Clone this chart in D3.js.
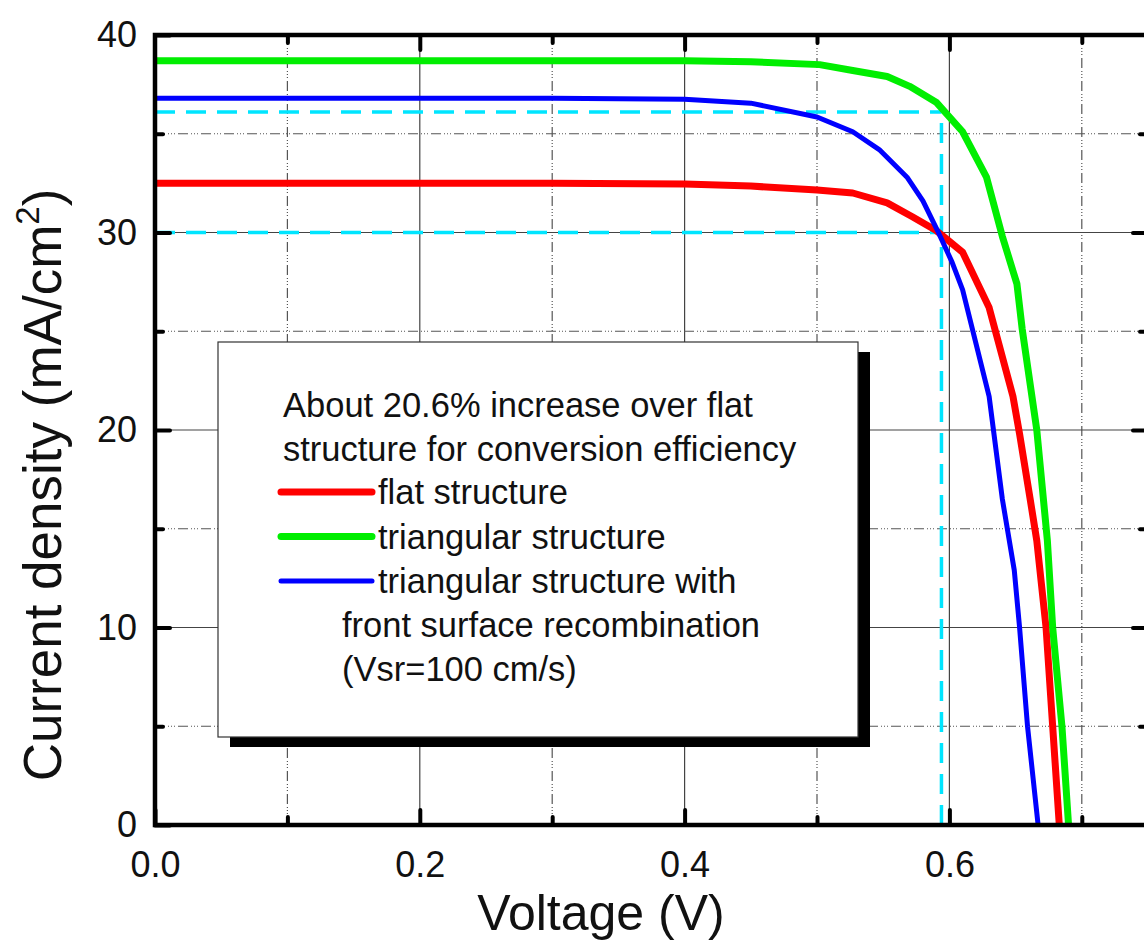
<!DOCTYPE html>
<html>
<head>
<meta charset="utf-8">
<script src="https://cdn.jsdelivr.net/npm/d3@7"></script>
<style>
  html, body { margin: 0; padding: 0; background: #fff; }
  svg { display: block; font-family: "Liberation Sans", Arial, sans-serif; }
</style>
</head>
<body>
<svg id="chart" width="1144" height="942"></svg>
<script>
// J-V curves: voltage (V) and current density (mA/cm^2) samples per structure
const flatV = [0, 0.1, 0.2, 0.3, 0.4, 0.45, 0.5, 0.527, 0.553, 0.572, 0.59, 0.61, 0.63, 0.648, 0.653, 0.661, 0.666, 0.673, 0.678, 0.683];
const flatJ = [32.5, 32.5, 32.5, 32.5, 32.45, 32.35, 32.15, 32.0, 31.5, 30.8, 30.1, 29.0, 26.2, 21.7, 19.8, 16.5, 14.4, 10.0, 5.0, 0];

const triV = [0, 0.1, 0.2, 0.3, 0.4, 0.45, 0.502, 0.527, 0.553, 0.57, 0.59, 0.61, 0.628, 0.64, 0.651, 0.655, 0.666, 0.674, 0.678, 0.685, 0.69];
const triJ = [38.7, 38.7, 38.7, 38.7, 38.7, 38.65, 38.5, 38.2, 37.9, 37.4, 36.6, 35.1, 32.8, 29.8, 27.4, 25.1, 20.0, 14.4, 10.0, 5.0, 0];

const triRecV = [0, 0.1, 0.2, 0.3, 0.4, 0.45, 0.5, 0.527, 0.547, 0.568, 0.58, 0.591, 0.602, 0.61, 0.63, 0.64, 0.649, 0.653, 0.659, 0.667];
const triRecJ = [36.8, 36.8, 36.8, 36.8, 36.75, 36.55, 35.85, 35.1, 34.2, 32.8, 31.6, 30.1, 28.5, 27.1, 21.7, 16.5, 12.9, 10.0, 5.0, 0];

// Maximum-power-point guide lines
const mppV = 0.594;
const mppJ = [36.1, 30.0];

// Axis ticks
const xMajor = [0.0, 0.2, 0.4, 0.6];
const xMinor = [0.1, 0.3, 0.5, 0.7];
const yMajor = [0, 10, 20, 30, 40];
const yMinor = [5, 15, 25, 35];

const legendNote = ["About 20.6% increase over flat", "structure for conversion efficiency"];
const seriesNames = ["flat structure", "triangular structure", "triangular structure with"];
const seriesNote = ["front surface recombination", "(Vsr=100 cm/s)"];
const seriesColors = ["#ff0000", "#00ee00", "#0000ff"];
const seriesWidths = [7, 7, 5];

const svg = d3.select("#chart");
const L = 155, T = 35, B = 825, R = 1148;
const x = d3.scaleLinear().domain([0, 0.75]).range([L, R]);
const y = d3.scaleLinear().domain([0, 40]).range([B, T]);

svg.append("defs").append("clipPath").attr("id", "plot")
  .append("rect").attr("x", L).attr("y", T).attr("width", R - L).attr("height", B - T);

// Grid
const grid = svg.append("g");
grid.selectAll(".gxM").data([0.2, 0.4, 0.6]).join("line")
  .attr("x1", d => x(d)).attr("x2", d => x(d)).attr("y1", T).attr("y2", B)
  .attr("stroke", "#444").attr("stroke-width", 1.2);
grid.selectAll(".gxm").data(xMinor).join("line")
  .attr("x1", d => x(d)).attr("x2", d => x(d)).attr("y1", T).attr("y2", B)
  .attr("stroke", "#555").attr("stroke-width", 1.2).attr("stroke-dasharray", "10,3,1,2,1,2,1,3");
grid.selectAll(".gyM").data([10, 20, 30]).join("line")
  .attr("x1", L).attr("x2", R).attr("y1", d => y(d)).attr("y2", d => y(d))
  .attr("stroke", "#444").attr("stroke-width", 1.2);
grid.selectAll(".gym").data(yMinor).join("line")
  .attr("x1", L).attr("x2", R).attr("y1", d => y(d)).attr("y2", d => y(d))
  .attr("stroke", "#555").attr("stroke-width", 1.2).attr("stroke-dasharray", "10,3,1,2,1,2,1,3");

// Guide lines
const guide = svg.append("g").attr("clip-path", "url(#plot)")
  .attr("stroke", "#00e5ff").attr("stroke-width", 3.5).attr("stroke-dasharray", "20,11").attr("fill", "none");
mppJ.forEach(j => {
  guide.append("line").attr("x1", x(0)).attr("x2", x(mppV)).attr("y1", y(j)).attr("y2", y(j));
});
guide.append("line").attr("x1", x(mppV)).attr("x2", x(mppV)).attr("y1", y(0)).attr("y2", y(d3.max(mppJ)));

// Curves
const line = d3.line().x(d => x(d[0])).y(d => y(d[1]));
const curves = [d3.zip(flatV, flatJ), d3.zip(triV, triJ), d3.zip(triRecV, triRecJ)];
const cg = svg.append("g").attr("clip-path", "url(#plot)");
[0, 2, 1].forEach(i => {
  cg.append("path").datum(curves[i]).attr("d", line)
    .attr("fill", "none").attr("stroke", seriesColors[i]).attr("stroke-width", seriesWidths[i])
    .attr("stroke-linejoin", "round");
});

// Axes
function styleAxis(g, width) {
  g.select(".domain").remove();
  g.selectAll(".tick line").attr("stroke", "#000").attr("stroke-width", width).attr("stroke-linecap", "round");
  g.selectAll(".tick text").attr("fill", "#111").style("font-size", "36px")
    .style("font-family", "'Liberation Sans', Arial, sans-serif");
}
const fmtX = d3.format(".1f");
svg.append("g").attr("transform", `translate(0,${B})`)
  .call(d3.axisBottom(x).tickValues(xMajor).tickFormat(fmtX).tickSize(-15).tickPadding(26))
  .call(g => styleAxis(g, 4));
svg.append("g").attr("transform", `translate(0,${B})`)
  .call(d3.axisBottom(x).tickValues(xMinor).tickFormat("").tickSize(-8))
  .call(g => styleAxis(g, 4));
svg.append("g").attr("transform", `translate(${L},0)`)
  .call(d3.axisLeft(y).tickValues(yMajor).tickFormat(d3.format("d")).tickSize(-15).tickPadding(18))
  .call(g => styleAxis(g, 4));
svg.append("g").attr("transform", `translate(${L},0)`)
  .call(d3.axisLeft(y).tickValues(yMinor).tickFormat("").tickSize(-8))
  .call(g => styleAxis(g, 4));
svg.append("g").attr("transform", `translate(0,${T})`)
  .call(d3.axisTop(x).tickValues(xMajor.slice(1)).tickFormat("").tickSize(-15))
  .call(g => styleAxis(g, 4));
svg.append("g").attr("transform", `translate(0,${T})`)
  .call(d3.axisTop(x).tickValues(xMinor).tickFormat("").tickSize(-8))
  .call(g => styleAxis(g, 4));
svg.append("g").attr("transform", `translate(${R},0)`)
  .call(d3.axisRight(y).tickValues(yMajor.slice(1, 4)).tickFormat("").tickSize(-15))
  .call(g => styleAxis(g, 4));
svg.append("g").attr("transform", `translate(${R},0)`)
  .call(d3.axisRight(y).tickValues(yMinor).tickFormat("").tickSize(-8))
  .call(g => styleAxis(g, 4));

// Frame
svg.append("rect").attr("x", L).attr("y", T).attr("width", R - L).attr("height", B - T)
  .attr("fill", "none").attr("stroke", "#000").attr("stroke-width", 4.5);

// Axis titles
svg.append("text").attr("x", 601).attr("y", 930).attr("text-anchor", "middle")
  .style("font-size", "50px").attr("fill", "#111").text("Voltage (V)");
const yt = svg.append("text").attr("transform", "translate(61,485) rotate(-90)")
  .attr("text-anchor", "middle").style("font-size", "53px").attr("fill", "#111");
yt.append("tspan").text("Current density (mA/cm");
yt.append("tspan").attr("dy", -22).style("font-size", "33px").text("2");
yt.append("tspan").attr("dy", 22).text(")");

// Legend box with drop shadow
const lg = svg.append("g");
const bx = 218, by = 342, bw = 640, bh = 395;
lg.append("rect").attr("x", bx + 12).attr("y", by + 10).attr("width", bw).attr("height", bh).attr("fill", "#000");
lg.append("rect").attr("x", bx).attr("y", by).attr("width", bw).attr("height", bh)
  .attr("fill", "#fff").attr("stroke", "#333").attr("stroke-width", 1.2);

const ts = "34.5px";
legendNote.forEach((t, i) => {
  lg.append("text").attr("x", 283).attr("y", 417 + i * 44).style("font-size", ts).attr("fill", "#111").text(t);
});
seriesNames.forEach((t, i) => {
  const base = 504 + i * 44.5;
  lg.append("line").attr("x1", 281).attr("x2", 372).attr("y1", base - 12).attr("y2", base - 12)
    .attr("stroke", seriesColors[i]).attr("stroke-width", seriesWidths[i]).attr("stroke-linecap", "round");
  lg.append("text").attr("x", 378).attr("y", base).style("font-size", ts).attr("fill", "#111").text(t);
});
seriesNote.forEach((t, i) => {
  lg.append("text").attr("x", 342).attr("y", 637 + i * 44).style("font-size", ts).attr("fill", "#111").text(t);
});
</script>
</body>
</html>
